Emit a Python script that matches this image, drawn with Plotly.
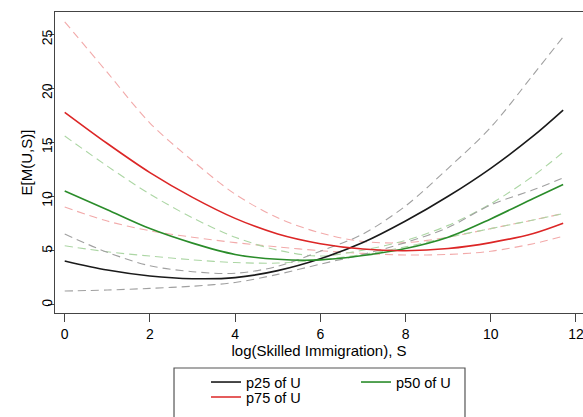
import plotly.graph_objects as go

# log(Skilled Immigration), S
S = [0, 1, 2, 3, 4, 5, 6, 7, 8, 9, 10, 11, 11.7]

# p25 of U
p25 = [4.0, 3.15, 2.6, 2.35, 2.45, 3.1, 4.2, 5.7, 7.7, 10.0, 12.6, 15.6, 18.0]
p25_hi = [6.5, 4.8, 3.55, 3.0, 2.85, 3.5, 4.9, 6.5, 9.1, 12.6, 16.4, 21.3, 24.8]
p25_lo = [1.2, 1.3, 1.45, 1.65, 2.0, 2.75, 3.7, 4.6, 5.7, 7.1, 9.2, 10.6, 11.7]

# p50 of U
p50 = [10.5, 8.75, 7.0, 5.65, 4.6, 4.15, 4.1, 4.5, 5.15, 6.2, 7.9, 9.8, 11.1]
p50_hi = [15.6, 12.8, 10.2, 8.0, 6.2, 5.0, 4.45, 5.0, 5.9, 7.3, 9.3, 11.9, 14.1]
p50_lo = [5.4, 4.85, 4.45, 4.1, 3.85, 3.8, 4.1, 4.6, 5.3, 6.2, 7.0, 7.8, 8.4]

# p75 of U
p75 = [17.8, 14.9, 12.2, 9.9, 7.95, 6.5, 5.6, 5.1, 4.95, 5.15, 5.7, 6.55, 7.5]
p75_hi = [26.2, 21.5, 16.8, 13.3, 10.2, 8.0, 6.6, 5.8, 5.7, 6.2, 7.0, 7.8, 8.4]
p75_lo = [9.0, 7.7, 6.8, 6.2, 5.7, 5.3, 4.95, 4.7, 4.55, 4.6, 4.9, 5.6, 6.3]

x_ticks = [0, 2, 4, 6, 8, 10, 12]
y_ticks = [0, 5, 10, 15, 20, 25]

FONT = "Arial, Liberation Sans, Helvetica, sans-serif"
BLACK, RED, GREEN = "#1a1a1a", "#dc2626", "#2a8c2a"
BLACK_L, RED_L, GREEN_L = "#a0a0a0", "#f2aaaa", "#acd6a4"

fig = go.Figure()


def add(y, color, dash, width, name=None, legend="legend", show=False):
    fig.add_trace(go.Scatter(
        x=S, y=y, mode="lines", name=name, showlegend=show, legend=legend,
        line=dict(color=color, width=width, dash=dash, shape="spline", smoothing=0.9),
        hoverinfo="skip",
    ))


dash = "8px,5px"
for hi, lo, c in [(p75_hi, p75_lo, RED_L), (p50_hi, p50_lo, GREEN_L), (p25_hi, p25_lo, BLACK_L)]:
    add(hi, c, dash, 1.1)
    add(lo, c, dash, 1.1)

add(p25, BLACK, "solid", 1.6, "p25 of U", "legend", True)
add(p50, GREEN, "solid", 1.6, "p50 of U", "legend", True)
add(p75, RED, "solid", 1.6, "p75 of U", "legend2", True)

fig.update_layout(
    width=583, height=417,
    margin=dict(l=55, r=0, t=12, b=104),
    plot_bgcolor="white", paper_bgcolor="white",
    font=dict(family=FONT, size=14, color="black"),
    legend=dict(orientation="h", x=0.286, y=-0.1764, xanchor="left", yanchor="top",
                entrywidth=105, bgcolor="rgba(0,0,0,0)", font=dict(size=14.5),
                itemclick=False, itemdoubleclick=False),
    legend2=dict(orientation="h", x=0.286, y=-0.2264, xanchor="left", yanchor="top",
                 entrywidth=105, bgcolor="rgba(0,0,0,0)", font=dict(size=14.5),
                 itemclick=False, itemdoubleclick=False),
    shapes=[dict(type="rect", xref="paper", yref="paper",
                 x0=0.2254, x1=0.7765, y0=-0.36, y1=-0.1827,
                 line=dict(color="#555555", width=1.2), fillcolor="rgba(0,0,0,0)")],
)

fig.update_xaxes(
    range=[-0.228, 12.166], tickvals=x_ticks, ticks="outside", ticklen=8,
    tickcolor="#444444", tickwidth=1.2, ticklabeloverflow="allow",
    showline=True, linecolor="#444444", linewidth=1.3, mirror=True,
    showgrid=False, zeroline=False,
    title=dict(text="log(Skilled Immigration), S", font=dict(size=15), standoff=4),
)
fig.update_yaxes(
    range=[-0.836, 27.11], tickvals=y_ticks, ticks="outside", ticklen=6,
    tickcolor="#444444", tickwidth=1.2, tickangle=-89.9, ticklabelshift=-3,
    showline=True, linecolor="#444444", linewidth=1.3, mirror=False,
    showgrid=False, zeroline=False,
    title=dict(text="E[M(U,S)]", font=dict(size=15), standoff=2),
)

fig.write_html("out.html")
